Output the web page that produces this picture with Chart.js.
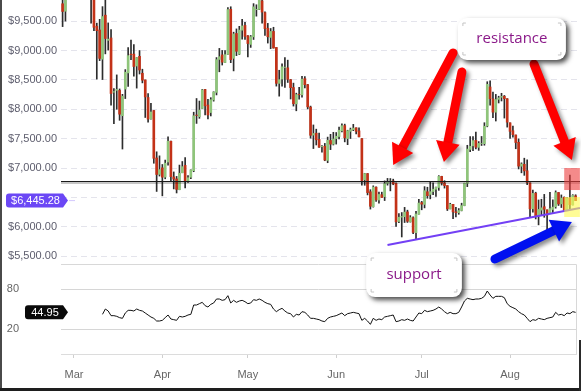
<!DOCTYPE html>
<html>
<head>
<meta charset="utf-8">
<script src="https://cdn.jsdelivr.net/npm/chart.js@4.4.1/dist/chart.umd.min.js"></script>
<style>
    html, body { margin: 0; padding: 0; background: #fff; }
    #wrap { position: relative; width: 581px; height: 391px; overflow: hidden; }
    #wrap canvas { position: absolute; left: 0; top: 0; }
    #frameL { position: absolute; left: 0; top: 0; width: 2px; height: 391px; background: #4a4a4a; }
    #frameB { position: absolute; left: 0; bottom: 0; width: 581px; height: 3px; background: #1e1e1e; }
    #frameR { position: absolute; right: 0; top: 340px; width: 2px; height: 51px; background: #2a2a2a; }
</style>
</head>
<body>
<div id="wrap">
    <canvas id="rsiChart" width="581" height="391"></canvas>
    <canvas id="priceChart" width="581" height="391"></canvas>
    <div id="frameL"></div><div id="frameB"></div><div id="frameR"></div>
</div>
<script>
// --- Données ---
// Jour 0 = 1er mars ; la série commence le 25 février (jour -4)
const firstDay = -4;
const monthLabels = ['Mar', 'Apr', 'May', 'Jun', 'Jul', 'Aug'];
const monthStarts = [0, 31, 61, 92, 122, 153];
const priceTicks = [5500, 6000, 6500, 7000, 7500, 8000, 8500, 9000, 9500];
const rsiTicks = [20, 80];

const opens = [
    9796, 9669, 10393, 10687,
    10385, 10977, 11101, 11497, 11532, 11500, 10803, 9951, 9414, 9350, 8853, 9602, 9173, 9214, 8291, 8322, 8321, 7890, 8344, 8619, 8938, 8939, 8736, 8901, 8613, 8498, 8200, 7836, 7979, 7171, 6892,
    7003, 6845, 7102, 7456, 6848, 6815, 6630, 6919, 7045, 6785, 6843, 6955, 7901, 7874, 8013, 8337, 8072, 7944, 8159, 8287, 8848, 8925, 8795, 8934, 9701, 8867, 9290, 8939, 9346, 9427,
    9251, 9104, 9233, 9695, 9700, 9845, 9645, 9380, 9223, 9325, 9052, 8441, 8515, 8713, 8705, 8504, 8370, 8091, 8255, 8246, 8522, 8419, 8037, 7561, 7593, 7486, 7362, 7371, 7129, 7469, 7406,
    7500, 7536, 7633, 7722, 7501, 7625, 7653, 7685, 7632, 7500, 6799, 6905, 6596, 6342, 6674, 6455, 6545, 6511, 6740, 6770, 6780, 6737, 6090, 6164, 6171, 6253, 6084, 6153, 5899, 6214,
    6411, 6380, 6596, 6550, 6599, 6638, 6668, 6857, 6746, 6700, 6304, 6382, 6253, 6239, 6276, 6360, 6740, 7315, 7378, 7470, 7352, 7417, 7414, 7716, 8379, 8176, 7950, 8169, 8205, 8221, 8180,
    7769, 7634, 7562, 7438, 7031, 7063, 6953, 6747, 6306, 6571, 6185, 6283, 6341, 6287, 6221, 6294, 6340, 6583, 6389, 6501, 6275, 6486, 6371, 6526
];
const highs = [
    9923, 10475, 10878, 11089,
    11047, 11189, 11528, 11512, 11710, 11500, 10899, 10147, 9466, 9531, 9747, 9888, 9470, 9355, 8350, 8585, 8346, 8254, 8675, 9051, 9177, 9100, 8879, 9000, 8682, 8499, 8269, 8100, 7979, 7276, 7207,
    7060, 7135, 7530, 7457, 6933, 6857, 7050, 7111, 7178, 6873, 6968, 7950, 8183, 8140, 8338, 8338, 8168, 8197, 8298, 8880, 9036, 9001, 9000, 9732, 9745, 9312, 9368, 9412, 9531, 9481,
    9255, 9256, 9798, 9779, 9964, 9940, 9658, 9462, 9375, 9396, 9052, 8664, 8773, 8881, 8836, 8508, 8445, 8274, 8375, 8562, 8557, 8423, 8054, 7733, 7661, 7595, 7381, 7419, 7526, 7573, 7608,
    7604, 7695, 7754, 7747, 7643, 7680, 7743, 7686, 7683, 7500, 6910, 6907, 6631, 6697, 6681, 6592, 6589, 6781, 6823, 6821, 6810, 6747, 6224, 6242, 6330, 6282, 6190, 6170, 6261, 6465,
    6432, 6683, 6673, 6771, 6749, 6674, 6870, 6860, 6784, 6700, 6400, 6382, 6330, 6310, 6401, 6741, 7387, 7534, 7535, 7613, 7450, 7537, 7771, 8469, 8486, 8291, 8253, 8222, 8272, 8235, 8180,
    7769, 7712, 7562, 7497, 7088, 7167, 7140, 6747, 6625, 6588, 6456, 6468, 6551, 6288, 6588, 6458, 6611, 6583, 6542, 6508, 6497, 6880, 6546, 6545
];
const lows = [
    9407, 9501, 10246, 10393,
    10352, 10850, 11002, 11136, 11440, 10694, 9466, 9336, 8513, 8828, 8506, 8943, 9007, 8068, 7755, 8000, 7812, 7323, 8182, 8389, 8846, 8564, 8360, 8600, 8449, 7860, 7781, 7831, 7081, 6601, 6863,
    6526, 6816, 7050, 6775, 6644, 6575, 6630, 6919, 6661, 6755, 6817, 6937, 7759, 7846, 8013, 7903, 7836, 7886, 8138, 8244, 8638, 8753, 8795, 8934, 8793, 8653, 8913, 8931, 9193, 9188,
    8891, 9053, 9188, 9585, 9695, 9465, 9255, 9127, 9031, 9040, 8394, 8223, 8395, 8371, 8456, 8175, 8054, 7974, 8172, 8205, 8365, 8005, 7507, 7331, 7392, 7349, 7270, 7124, 7090, 7313, 7392,
    7407, 7497, 7613, 7445, 7397, 7502, 7636, 7579, 7531, 6709, 6706, 6542, 6301, 6334, 6433, 6402, 6499, 6446, 6708, 6611, 6715, 6006, 6071, 5826, 6072, 6073, 6079, 5884, 5791, 6214,
    6289, 6321, 6485, 6475, 6546, 6515, 6620, 6710, 6658, 6276, 6304, 6136, 6169, 6212, 6270, 6357, 6683, 7280, 7296, 7326, 7300, 7383, 7388, 7701, 8071, 7858, 7800, 8107, 8141, 7850, 7696,
    7504, 7523, 7328, 6984, 6918, 6875, 6715, 6170, 6250, 6133, 6032, 6205, 6161, 5881, 6221, 6238, 6316, 6362, 6327, 6261, 6275, 6308, 6371, 6445
];
const closes = [
    9665, 10366, 10725, 10397,
    10951, 11086, 11489, 11512, 11573, 10780, 9965, 9395, 9337, 8866, 9578, 9205, 9194, 8269, 8300, 8338, 7916, 8223, 8630, 8913, 8929, 8728, 8879, 8668, 8495, 8209, 7833, 7954, 7165, 6890, 6973,
    6844, 7083, 7456, 6853, 6811, 6636, 6911, 7023, 6770, 6834, 6968, 7889, 7895, 7986, 8329, 8058, 7903, 8163, 8294, 8845, 8895, 8802, 8930, 9697, 8845, 9282, 8987, 9348, 9419, 9240,
    9119, 9235, 9743, 9700, 9858, 9654, 9373, 9234, 9325, 9043, 8441, 8504, 8723, 8716, 8510, 8368, 8094, 8250, 8247, 8513, 8418, 8041, 7557, 7587, 7480, 7355, 7368, 7135, 7473, 7406, 7494,
    7541, 7643, 7720, 7514, 7634, 7653, 7679, 7625, 7531, 6787, 6906, 6582, 6349, 6675, 6457, 6550, 6499, 6734, 6769, 6776, 6729, 6083, 6162, 6174, 6250, 6093, 6157, 5904, 6218, 6404,
    6385, 6614, 6529, 6597, 6639, 6673, 6857, 6746, 6700, 6304, 6382, 6253, 6239, 6276, 6360, 6741, 7322, 7370, 7466, 7354, 7419, 7418, 7711, 8424, 8181, 7951, 8166, 8193, 8218, 8180, 7780,
    7624, 7567, 7434, 7032, 7068, 6951, 6753, 6305, 6568, 6184, 6295, 6322, 6297, 6200, 6308, 6334, 6581, 6388, 6488, 6277, 6483, 6376, 6534, 6445.28
];

// RSI, à partir du jour 10
const rsiStart = 10;
const rsiValues = [
    42, 50, 47, 40, 40, 39, 37, 36, 44, 48,
    48, 47, 50, 48, 47, 44, 41, 38, 36, 32,
    32, 33, 37, 41, 35, 34, 33, 39, 38, 39,
    41, 42, 56, 56, 58, 60, 55, 53, 57, 59,
    65, 65, 63, 64, 70, 59, 63, 60, 62, 63,
    61, 58, 59, 64, 63, 65, 63, 60, 58, 57,
    50, 46, 49, 51, 47, 44, 43, 38, 42, 41,
    46, 45, 41, 36, 36, 35, 34, 32, 31, 36,
    38, 39, 40, 42, 44, 40, 43, 44, 45, 44,
    43, 33, 36, 32, 27, 36, 33, 35, 34, 38,
    39, 40, 41, 31, 32, 34, 33, 35, 33, 32,
    38, 44, 43, 48, 46, 47, 48, 50, 53, 50,
    46, 43, 45, 43, 43, 45, 53, 62, 66, 65,
    64, 65, 65, 66, 69, 77, 71, 66, 69, 69,
    69, 67, 58, 54, 52, 50, 46, 43, 41, 36,
    31, 34, 33, 36, 35, 34, 36, 37, 38, 45,
    41, 42, 40, 44, 43, 46, 44.95
];

// --- Annotations (coordonnées jour / prix) ---
const resistanceLevel = 6780;
const supportLine = [[110, 5689], [177.5, 6319]];
const redZone = [172, 177.5, 7000, 6625];
const yellowZone = [172, 177.5, 6506, 6166];
const redArrows = [
    [133, 8958, 112, 7051],
    [136.1, 8634, 129.8, 7102],
    [161.4, 8770, 174.7, 7136]
];
const blueArrow = [147.7, 5451, 174.7, 6081];
const callouts = [
    { text: 'resistance', x0: 134.7, x1: 172.6, y0: 9553, y1: 8839 },
    { text: 'support', x0: 102.5, x1: 136.1, y0: 5553, y1: 4804 }
];

Chart.defaults.font.family = '"Liberation Sans", Arial, sans-serif';

const GREEN = '#8fc57a';
const RED = '#c33218';
const lastClose = closes[closes.length - 1];

const wicks = opens.map((o, i) => ({ x: firstDay + i, y: [lows[i], highs[i]] }));
const bodies = opens.map((o, i) => ({ x: firstDay + i, y: [o, closes[i]] }));
const bodyColors = opens.map((o, i) => closes[i] >= o ? GREEN : RED);

// Pas de marge automatique autour des axes
const noPadY = s => { s.width = 61; s.paddingTop = 0; s.paddingBottom = 0; };

// --- Dessins ---
function drawArrow(ctx, x1, y1, x2, y2, color, w, headLen, headW) {
    const a = Math.atan2(y2 - y1, x2 - x1);
    const bx = x2 - Math.cos(a) * headLen;
    const by = y2 - Math.sin(a) * headLen;
    ctx.save();
    ctx.shadowColor = 'rgba(0,0,0,0.45)';
    ctx.shadowOffsetX = 3;
    ctx.shadowOffsetY = 3;
    ctx.shadowBlur = 4;
    ctx.strokeStyle = color;
    ctx.fillStyle = color;
    ctx.lineWidth = w;
    ctx.lineCap = 'round';
    ctx.beginPath();
    ctx.moveTo(x1, y1);
    ctx.lineTo(bx + Math.cos(a) * 2, by + Math.sin(a) * 2);
    ctx.stroke();
    ctx.beginPath();
    ctx.moveTo(x2, y2);
    ctx.lineTo(bx + Math.sin(a) * headW / 2, by - Math.cos(a) * headW / 2);
    ctx.lineTo(bx - Math.sin(a) * headW / 2, by + Math.cos(a) * headW / 2);
    ctx.closePath();
    ctx.fill();
    ctx.restore();
}

function drawCallout(ctx, x0, y0, x1, y1, text) {
    ctx.save();
    ctx.shadowColor = 'rgba(0,0,0,0.7)';
    ctx.shadowOffsetX = 3;
    ctx.shadowOffsetY = 3;
    ctx.shadowBlur = 5;
    ctx.fillStyle = '#fff';
    ctx.beginPath();
    ctx.roundRect(x0, y0, x1 - x0, y1 - y0, 9);
    ctx.fill();
    ctx.restore();
    // petits coins gris
    ctx.save();
    ctx.strokeStyle = '#c4c4c4';
    ctx.lineWidth = 1;
    const c = 5, l = 3;
    [[x0 + c, y0 + c, 1, 1], [x1 - c, y0 + c, -1, 1], [x0 + c, y1 - c, 1, -1], [x1 - c, y1 - c, -1, -1]].forEach(([cx, cy, sx, sy]) => {
        ctx.beginPath();
        ctx.moveTo(cx, cy + sy * l);
        ctx.lineTo(cx, cy);
        ctx.lineTo(cx + sx * l, cy);
        ctx.stroke();
    });
    ctx.fillStyle = '#8b1a89';
    ctx.font = '15px "Open Sans", sans-serif';
    ctx.textAlign = 'center';
    ctx.textBaseline = 'middle';
    ctx.fillText(text, (x0 + x1) / 2, (y0 + y1) / 2);
    ctx.restore();
}

function drawTag(ctx, x0, x1, tip, y, text, bg) {
    const h = 14;
    ctx.save();
    ctx.fillStyle = bg;
    ctx.beginPath();
    ctx.moveTo(x0 + 3, y - h / 2);
    ctx.lineTo(x1, y - h / 2);
    ctx.lineTo(tip, y);
    ctx.lineTo(x1, y + h / 2);
    ctx.lineTo(x0 + 3, y + h / 2);
    ctx.quadraticCurveTo(x0, y + h / 2, x0, y + h / 2 - 3);
    ctx.lineTo(x0, y - h / 2 + 3);
    ctx.quadraticCurveTo(x0, y - h / 2, x0 + 3, y - h / 2);
    ctx.fill();
    ctx.fillStyle = '#fff';
    ctx.font = '11px "Liberation Sans", Arial, sans-serif';
    ctx.textAlign = 'center';
    ctx.textBaseline = 'middle';
    ctx.fillText(text, (x0 + x1) / 2 + 1, y + 0.5);
    ctx.restore();
}

const priceDecor = {
    id: 'priceDecor',
    afterDraw(chart) {
        const ctx = chart.ctx;
        const X = v => chart.scales.x.getPixelForValue(v);
        const Y = v => chart.scales.y.getPixelForValue(v);
        const area = chart.chartArea;

        // ligne de résistance
        const ry = Math.round(Y(resistanceLevel)) + 0.5;
        ctx.save();
        ctx.strokeStyle = 'rgba(0,0,0,0.3)';
        ctx.lineWidth = 1.5;
        ctx.beginPath(); ctx.moveTo(area.left, ry + 1.5); ctx.lineTo(area.right, ry + 1.5); ctx.stroke();
        ctx.strokeStyle = '#1a1a1a';
        ctx.lineWidth = 1.2;
        ctx.beginPath(); ctx.moveTo(area.left, ry); ctx.lineTo(area.right, ry); ctx.stroke();

        // ligne de support
        ctx.strokeStyle = '#7340f5';
        ctx.lineWidth = 2;
        ctx.beginPath();
        ctx.moveTo(X(supportLine[0][0]), Y(supportLine[0][1]));
        ctx.lineTo(X(supportLine[1][0]), Y(supportLine[1][1]));
        ctx.stroke();

        // zones
        ctx.fillStyle = 'rgba(236,60,60,0.6)';
        ctx.fillRect(X(redZone[0]), Y(redZone[2]), X(redZone[1]) - X(redZone[0]), Y(redZone[3]) - Y(redZone[2]));
        ctx.fillStyle = 'rgba(255,250,80,0.6)';
        ctx.fillRect(X(yellowZone[0]), Y(yellowZone[2]), X(yellowZone[1]) - X(yellowZone[0]), Y(yellowZone[3]) - Y(yellowZone[2]));
        ctx.restore();

        // flèches
        redArrows.forEach(a => drawArrow(ctx, X(a[0]), Y(a[1]), X(a[2]), Y(a[3]), '#ff0000', 9, 20, 24));
        drawArrow(ctx, X(blueArrow[0]), Y(blueArrow[1]), X(blueArrow[2]), Y(blueArrow[3]), '#0010f0', 9, 20, 24);

        // bulles
        callouts.forEach(c => drawCallout(ctx, X(c.x0), Y(c.y0), X(c.x1), Y(c.y1), c.text));

        // étiquette du dernier prix
        const ty = Y(lastClose);
        drawTag(ctx, 6, 63, 68, ty, '$' + lastClose.toLocaleString('en-US', { minimumFractionDigits: 2 }), '#6b47f5');
        ctx.save();
        ctx.strokeStyle = 'rgba(107,71,245,0.3)';
        ctx.beginPath(); ctx.moveTo(69, ty); ctx.lineTo(75, ty); ctx.stroke();
        ctx.restore();
    }
};

const rsiDecor = {
    id: 'rsiDecor',
    afterDraw(chart) {
        const ctx = chart.ctx;
        const area = chart.chartArea;
        ctx.save();
        ctx.strokeStyle = '#d8d8d8';
        ctx.lineWidth = 1;
        ctx.beginPath();
        ctx.moveTo(area.left, area.top + 0.5);
        ctx.lineTo(area.right + 0.5, area.top + 0.5);
        ctx.lineTo(area.right + 0.5, area.bottom);
        ctx.stroke();
        ctx.restore();
        const last = rsiValues[rsiValues.length - 1];
        drawTag(ctx, 25, 63, 68, chart.scales.y.getPixelForValue(last), last.toFixed(2), '#0a0a0a');
    }
};

// --- Graphique RSI ---
new Chart(document.getElementById('rsiChart'), {
    type: 'line',
    data: {
        datasets: [{
            data: rsiValues.map((v, i) => ({ x: rsiStart + i, y: v })),
            borderColor: '#111',
            borderWidth: 1,
            pointRadius: 0,
            tension: 0
        }]
    },
    options: {
        responsive: false,
        animation: false,
        events: [],
        layout: { padding: { top: 264, right: 5, left: 0, bottom: 0 } },
        plugins: { legend: { display: false }, tooltip: { enabled: false } },
        scales: {
            x: {
                type: 'linear', min: -4.56, max: 176.14,
                afterBuildTicks: s => { s.ticks = monthStarts.map(v => ({ value: v })); },
                afterFit: s => { s.height = 37; s.paddingLeft = 0; s.paddingRight = 0; },
                ticks: {
                    callback: v => monthLabels[monthStarts.indexOf(v)] ?? '',
                    color: '#666', font: { size: 11 }, padding: 10, maxRotation: 0, autoSkip: false
                },
                grid: { drawOnChartArea: false, drawTicks: true, tickLength: 4, color: '#cfcfcf' },
                border: { display: true, color: '#dcdcdc' }
            },
            y: {
                min: -17.5, max: 117.5,
                afterBuildTicks: s => { s.ticks = rsiTicks.map(v => ({ value: v })); },
                afterFit: noPadY,
                ticks: { color: '#666', font: { size: 11 }, padding: 42 },
                grid: { color: '#d6d6d6', drawTicks: false },
                border: { display: false }
            }
        }
    },
    plugins: [rsiDecor]
});

// --- Graphique des prix ---
new Chart(document.getElementById('priceChart'), {
    type: 'bar',
    data: {
        datasets: [
            { data: wicks, backgroundColor: '#2d2d2d', barThickness: 1, grouped: false, order: 2 },
            { data: bodies, backgroundColor: bodyColors, barThickness: 2, grouped: false, order: 1 }
        ]
    },
    options: {
        responsive: false,
        animation: false,
        events: [],
        layout: { padding: { top: 0, right: 1, bottom: 129, left: 0 } },
        plugins: { legend: { display: false }, tooltip: { enabled: false } },
        scales: {
            x: { type: 'linear', display: false, min: -4.56, max: 177.54, offset: false },
            y: {
                min: 5400, max: 9860,
                afterBuildTicks: s => { s.ticks = priceTicks.map(v => ({ value: v })); },
                afterFit: noPadY,
                ticks: {
                    // le libellé caché sous l'étiquette du dernier prix n'est pas affiché
                    callback: v => Math.abs(v - lastClose) < 150 ? '' : '$' + v.toLocaleString('en-US', { minimumFractionDigits: 2 }),
                    color: '#5d5d6d', font: { size: 11 }, padding: 4
                },
                grid: { color: '#e4e4ec', drawTicks: false },
                border: { display: false, dash: [6, 4] }
            }
        }
    },
    plugins: [priceDecor]
});
</script>
</body>
</html>
